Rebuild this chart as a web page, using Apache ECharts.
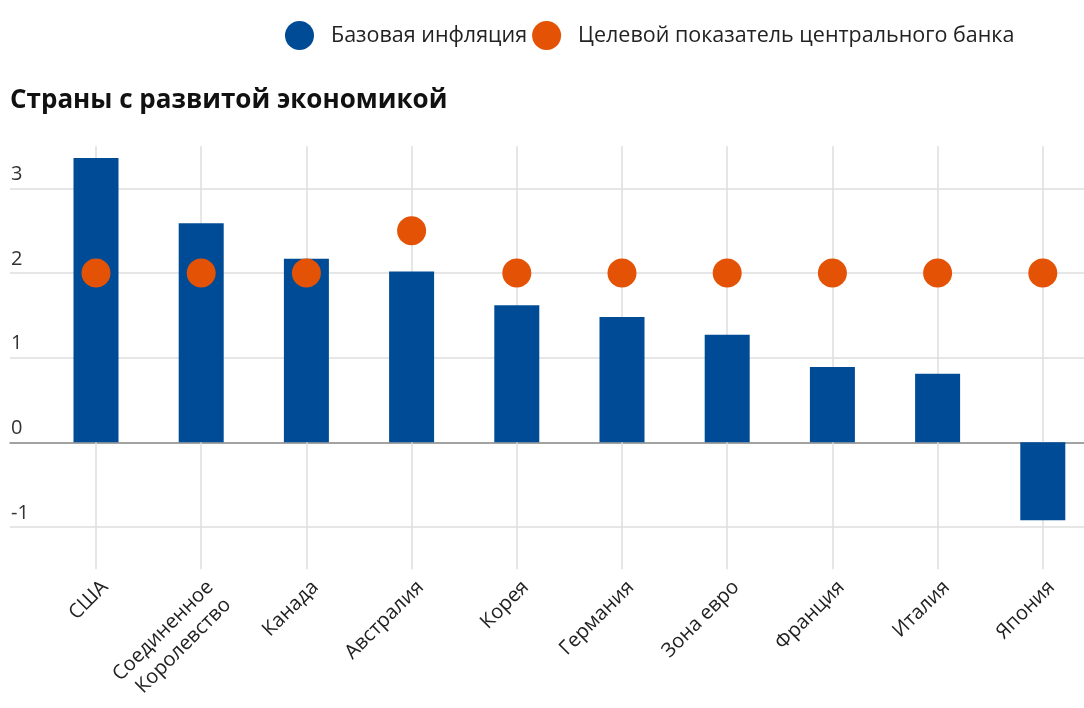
<!DOCTYPE html>
<html>
<head>
<meta charset="utf-8">
<script src="https://cdn.jsdelivr.net/npm/echarts@6/dist/echarts.min.js"></script>
<style>
  html, body { margin: 0; padding: 0; background: #ffffff; }
  #chart { width: 1084px; height: 708px; }
</style>
</head>
<body>
<div id="chart"></div>
<script>
// Countries along the horizontal axis
const categories = ['США', 'Соединенное\nКоролевство', 'Канада', 'Австралия', 'Корея',
  'Германия', 'Зона евро', 'Франция', 'Италия', 'Япония'];
// Core inflation, %
const coreInflation = [3.36, 2.59, 2.17, 2.02, 1.62, 1.48, 1.27, 0.89, 0.81, -0.92];
// Central bank target, %
const cbTarget = [2, 2, 2, 2.5, 2, 2, 2, 2, 2, 2];
// Value-axis ticks shown at the left edge
const yTicks = [-1, 0, 1, 2, 3];

const seriesNames = ['Базовая инфляция', 'Целевой показатель центрального банка'];
const BLUE = '#004b96';
const ORANGE = '#e35205';
const GRID_COLOR = '#dedede';
const FONT = '"Open Sans", "Noto Sans", sans-serif';

// Layout constants (pixels)
const WIDTH = 1084;
const GRID_LEFT = 10;
const UNIT = 84.6;     // px per 1 percentage point
const ZERO_Y = 442.3;  // y of the zero line
const BAND = 105.2;    // spacing between neighbouring countries
const FIRST_X = 96;    // x of the first country

const plotTop = ZERO_Y - 3.5 * UNIT;
const plotHeight = 5 * UNIT;
// country index range visible across the full plot width
const xMin = -(FIRST_X - GRID_LEFT) / BAND;
const xMax = (WIDTH - FIRST_X) / BAND;
const positions = categories.map((_, i) => i);

const chart = echarts.init(document.getElementById('chart'), null, { renderer: 'canvas' });

chart.setOption({
  animation: false,
  backgroundColor: '#ffffff',
  textStyle: { fontFamily: FONT },
  title: {
    text: 'Страны с развитой экономикой',
    left: 5,
    top: 83,
    textStyle: { fontFamily: FONT, fontSize: 26, fontWeight: 'bold', color: '#111111' }
  },
  legend: {
    top: 16,
    left: 280,
    icon: 'circle',
    itemWidth: 29,
    itemHeight: 29,
    itemGap: 5,
    data: seriesNames,
    textStyle: { fontFamily: FONT, fontSize: 21.5, color: '#222222', padding: [0, 0, 0, 12] }
  },
  grid: [
    // background grid: horizontal rules, tick labels, zero line
    { left: GRID_LEFT, right: 0, top: ZERO_Y - 3 * UNIT, height: 4 * UNIT },
    // plot grid: bars, dots, country rules and names
    { left: GRID_LEFT, right: 0, top: plotTop, height: plotHeight }
  ],
  xAxis: [
    {
      gridIndex: 0, type: 'value', min: 0, max: 1,
      axisLine: { show: true, onZero: true, lineStyle: { color: '#8c8c8c', width: 1.5 } },
      axisTick: { show: false }, axisLabel: { show: false }, splitLine: { show: false }
    },
    {
      gridIndex: 1, type: 'value', min: xMin, max: xMax,
      axisLine: { show: false, onZero: false },
      axisTick: {
        show: true, inside: true, length: plotHeight, customValues: positions,
        lineStyle: { color: GRID_COLOR, width: 1.5 }
      },
      axisLabel: {
        customValues: positions,
        formatter: (v) => categories[Math.round(v)],
        rotate: 45, margin: 6, verticalAlign: 'top',
        fontFamily: FONT, fontSize: 20, color: '#222222', lineHeight: 25
      },
      splitLine: { show: false }
    }
  ],
  yAxis: [
    {
      gridIndex: 0, type: 'value', min: yTicks[0], max: yTicks[yTicks.length - 1], interval: 1,
      axisLine: { show: false }, axisTick: { show: false },
      axisLabel: {
        inside: true, margin: 1, verticalAlign: 'bottom', padding: [0, 0, 4, 0],
        fontFamily: FONT, fontSize: 20, color: '#333333'
      },
      splitLine: { show: true, lineStyle: { color: GRID_COLOR, width: 1.5 } }
    },
    {
      gridIndex: 1, type: 'value', min: -1.5, max: 3.5,
      show: false, splitLine: { show: false }
    }
  ],
  series: [
    {
      name: seriesNames[0], type: 'bar', xAxisIndex: 1, yAxisIndex: 1,
      data: coreInflation.map((v, i) => [positions[i], v]), barWidth: 45,
      itemStyle: { color: BLUE }, z: 2
    },
    {
      name: seriesNames[1], type: 'scatter', xAxisIndex: 1, yAxisIndex: 1,
      data: cbTarget.map((v, i) => [positions[i], v]), symbol: 'circle', symbolSize: 29,
      itemStyle: { color: ORANGE, opacity: 1 }, z: 3
    }
  ]
});
</script>
</body>
</html>
